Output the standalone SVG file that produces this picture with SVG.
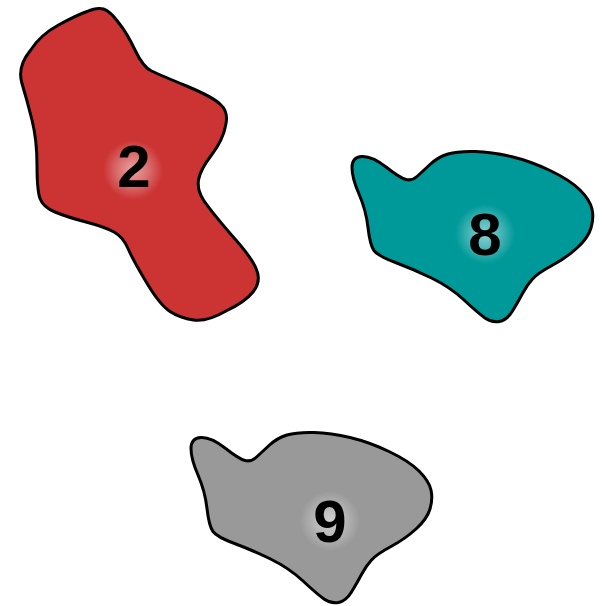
<svg xmlns="http://www.w3.org/2000/svg" width="603" height="606" viewBox="0 0 603 606">
<defs>
<radialGradient id="glow">
<stop offset="0" stop-color="#ffffff" stop-opacity="0.55"/>
<stop offset="0.5" stop-color="#ffffff" stop-opacity="0.3"/>
<stop offset="1" stop-color="#ffffff" stop-opacity="0"/>
</radialGradient>
<path id="blob" d="M 362,156.5 Q 372,156 386,167 Q 400,178 406,179.5 Q 412,181 417,176.5 Q 422,172 430,164.5 Q 438,157 448,154 Q 458,151 475,151.5 Q 492,152 511,156.5 Q 530,161 550,170.5 Q 570,180 580,190 Q 590,200 592,209 Q 594,218 591,228 Q 588,238 577,248 Q 566,258 552,265.5 Q 538,273 532.5,279 Q 527,285 522.5,293.5 Q 518,302 512.5,311 Q 507,320 499.5,321.5 Q 492,323 485,318 Q 478,313 464,300 Q 450,287 431.5,278 Q 413,269 395.5,262.5 Q 378,256 374,250.5 Q 370,245 368,227.5 Q 366,210 359,194 Q 352,178 352,167.5 Q 352,157 362,156.5 Z"/>
</defs>
<style>
.shape{stroke:#000;stroke-width:3;stroke-linejoin:round}
.lbl{font-family:"Liberation Sans",Arial,sans-serif;font-weight:bold;font-size:60px;fill:#000;text-anchor:middle}
</style>
<g id="node-2">
<path class="shape" fill="#cc3333" d="M 30,51 Q 40,35 58.5,25 Q 77,15 87,11.5 Q 97,7 103.5,9 Q 110,11 118.5,22.5 Q 127,33 135,50 Q 143,67 151.5,71 Q 160,75 186.5,86 Q 213,97 220.5,104.5 Q 229,112 225.5,126 Q 223,140 211.5,155 Q 200,170 198.5,180 Q 197,190 203.5,200 Q 210,210 231.5,235 Q 254,260 257,271 Q 261,282 253,292 Q 245,302 226,311 Q 207,322 193.5,320 Q 180,318 170,311.5 Q 160,305 146.5,282.5 Q 133,260 128,248.5 Q 123,237 114,232 Q 105,227 86,222 Q 67,217 55,212 Q 43,207 40,198.5 Q 37,190 37,165 Q 37,140 32,120 Q 27,100 22,83.5 Q 17,67 30,51 Z"/>
<circle cx="133" cy="170" r="30" fill="url(#glow)"/>
<text class="lbl" x="134" y="187">2</text>
</g>
<g id="node-8">
<use href="#blob" class="shape" fill="#009999"/>
<circle cx="485" cy="234" r="30" fill="url(#glow)"/>
<text class="lbl" x="485" y="255">8</text>
</g>
<g id="node-9">
<use href="#blob" class="shape" fill="#999999" transform="translate(-161,281)"/>
<circle cx="330" cy="521" r="30" fill="url(#glow)"/>
<text class="lbl" x="330" y="542">9</text>
</g>
<g id="connectors"/>
</svg>
